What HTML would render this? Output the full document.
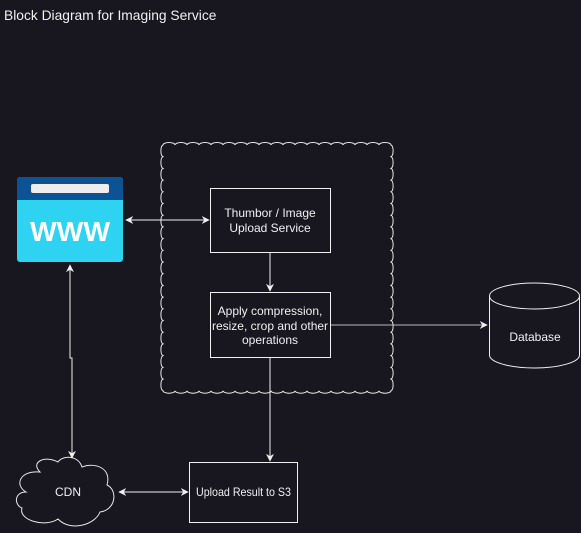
<!DOCTYPE html>
<html><head><style>
html,body{margin:0;padding:0;background:#18161e;}
svg{display:block;}
text{font-family:"Liberation Sans",sans-serif;fill:#f0f0f0;}
</style></head><body>
<svg width="581" height="533" viewBox="0 0 581 533" xmlns="http://www.w3.org/2000/svg">
<defs>
<marker id="a" viewBox="0 0 10 10" refX="9" refY="5" markerWidth="8" markerHeight="8" orient="auto-start-reverse" markerUnits="userSpaceOnUse"><path d="M0,0 L10,5 L0,10 L3,5 Z" fill="#f0f0f0"/></marker>
<marker id="g" viewBox="0 0 10 10" refX="9" refY="5" markerWidth="8" markerHeight="8" orient="auto" markerUnits="userSpaceOnUse"><path d="M0,0 L10,5 L0,10 L3,5 Z" fill="#f0f0f0"/></marker>
</defs>
<text x="4" y="20" font-size="13.8">Block Diagram for Imaging Service</text>

<path fill="none" stroke="#e8e8e8" stroke-width="1" d="M163,145
a6 2.5 0 0 1 12 0a6 2.5 0 0 1 12 0a6 2.5 0 0 1 12 0a6 2.5 0 0 1 12 0a6 2.5 0 0 1 12 0a6 2.5 0 0 1 12 0a6 2.5 0 0 1 12 0a6 2.5 0 0 1 12 0a6 2.5 0 0 1 12 0a6 2.5 0 0 1 12 0a6 2.5 0 0 1 12 0a6 2.5 0 0 1 12 0a6 2.5 0 0 1 12 0a6 2.5 0 0 1 12 0a6 2.5 0 0 1 12 0a6 2.5 0 0 1 12 0a6 2.5 0 0 1 12 0a6 2.5 0 0 1 12 0a6 2.5 0 0 1 12 0
a2.5 5.93 0 0 1 0 11.7a2.5 5.93 0 0 1 0 11.7a2.5 5.93 0 0 1 0 11.7a2.5 5.93 0 0 1 0 11.7a2.5 5.93 0 0 1 0 11.7a2.5 5.93 0 0 1 0 11.7a2.5 5.93 0 0 1 0 11.7a2.5 5.93 0 0 1 0 11.7a2.5 5.93 0 0 1 0 11.7a2.5 5.93 0 0 1 0 11.7a2.5 5.93 0 0 1 0 11.7a2.5 5.93 0 0 1 0 11.7a2.5 5.93 0 0 1 0 11.7a2.5 5.93 0 0 1 0 11.7a2.5 5.93 0 0 1 0 11.7a2.5 5.93 0 0 1 0 11.7a2.5 5.93 0 0 1 0 11.7a2.5 5.93 0 0 1 0 11.7a2.5 5.93 0 0 1 0 11.7a2.5 5.93 0 0 1 0 11.7a2.5 5.93 0 0 1 0 11.7
a6 2.5 0 0 1 -12 0a6 2.5 0 0 1 -12 0a6 2.5 0 0 1 -12 0a6 2.5 0 0 1 -12 0a6 2.5 0 0 1 -12 0a6 2.5 0 0 1 -12 0a6 2.5 0 0 1 -12 0a6 2.5 0 0 1 -12 0a6 2.5 0 0 1 -12 0a6 2.5 0 0 1 -12 0a6 2.5 0 0 1 -12 0a6 2.5 0 0 1 -12 0a6 2.5 0 0 1 -12 0a6 2.5 0 0 1 -12 0a6 2.5 0 0 1 -12 0a6 2.5 0 0 1 -12 0a6 2.5 0 0 1 -12 0a6 2.5 0 0 1 -12 0a6 2.5 0 0 1 -12 0
a2.5 5.93 0 0 1 0 -11.7a2.5 5.93 0 0 1 0 -11.7a2.5 5.93 0 0 1 0 -11.7a2.5 5.93 0 0 1 0 -11.7a2.5 5.93 0 0 1 0 -11.7a2.5 5.93 0 0 1 0 -11.7a2.5 5.93 0 0 1 0 -11.7a2.5 5.93 0 0 1 0 -11.7a2.5 5.93 0 0 1 0 -11.7a2.5 5.93 0 0 1 0 -11.7a2.5 5.93 0 0 1 0 -11.7a2.5 5.93 0 0 1 0 -11.7a2.5 5.93 0 0 1 0 -11.7a2.5 5.93 0 0 1 0 -11.7a2.5 5.93 0 0 1 0 -11.7a2.5 5.93 0 0 1 0 -11.7a2.5 5.93 0 0 1 0 -11.7a2.5 5.93 0 0 1 0 -11.7a2.5 5.93 0 0 1 0 -11.7a2.5 5.93 0 0 1 0 -11.7a2.5 5.93 0 0 1 0 -11.7Z"/>

<!-- WWW icon -->
<rect x="17" y="177" width="106" height="85" rx="3" fill="#2fd3f2"/>
<path d="M20,177 H120 a3 3 0 0 1 3 3 V200 H17 V180 a3 3 0 0 1 3 -3Z" fill="#0b5394"/>
<rect x="31" y="184" width="78" height="9" rx="2" fill="#eeeeee"/>
<text x="30" y="241" font-size="28" font-weight="bold" textLength="80" lengthAdjust="spacingAndGlyphs" style="fill:#ffffff">WWW</text>

<!-- boxes -->
<rect x="210.5" y="188.5" width="120" height="64" fill="#18161e" stroke="#f0f0f0"/>
<text x="270" y="217" font-size="12" text-anchor="middle">Thumbor / Image</text>
<text x="270" y="232" font-size="12" text-anchor="middle">Upload Service</text>

<rect x="210.5" y="292.5" width="120" height="65" fill="#18161e" stroke="#f0f0f0"/>
<text x="270" y="315" font-size="12" text-anchor="middle">Apply compression,</text>
<text x="270" y="330" font-size="12" text-anchor="middle">resize, crop and other</text>
<text x="270" y="344" font-size="12" text-anchor="middle">operations</text>

<rect x="189.5" y="462.5" width="108" height="60" fill="#18161e" stroke="#f0f0f0"/>
<text x="196" y="496" font-size="12" textLength="95" lengthAdjust="spacingAndGlyphs">Upload Result to S3</text>

<!-- database -->
<path d="M489.5,296 V355 a45 13 0 0 0 90 0 V296" fill="#18161e" stroke="#f0f0f0"/>
<ellipse cx="534.5" cy="296" rx="45" ry="13" fill="#18161e" stroke="#f0f0f0"/>
<text x="535" y="341" font-size="12" text-anchor="middle">Database</text>

<!-- CDN cloud -->
<path d="M40,472 C30,462 45,455 58,462 C63,455 78,455 82,467 C95,462 112,468 107,485 C118,490 116,510 100,512 C95,525 70,532 58,519 C45,528 18,520 22,508 C14,505 14,492 26,492 C14,485 20,470 40,472Z" fill="none" stroke="#e8e8e8"/>
<text x="68" y="496" font-size="12" text-anchor="middle">CDN</text>

<!-- connectors -->
<g stroke="#f0f0f0" stroke-width="1" fill="none">
<path d="M126,220 H209" marker-start="url(#a)" marker-end="url(#a)"/>
<path d="M270,253 V291" marker-end="url(#a)"/>
<path d="M270,358 V461" marker-end="url(#a)"/>
<path d="M331,325 H487" stroke="#bbbbbb" marker-end="url(#g)"/>
<path d="M119,492 H188" marker-start="url(#a)" marker-end="url(#a)"/>
<path d="M70,265 V358 H72 V458" marker-start="url(#a)" marker-end="url(#a)"/>
</g>
</svg>
</body></html>
